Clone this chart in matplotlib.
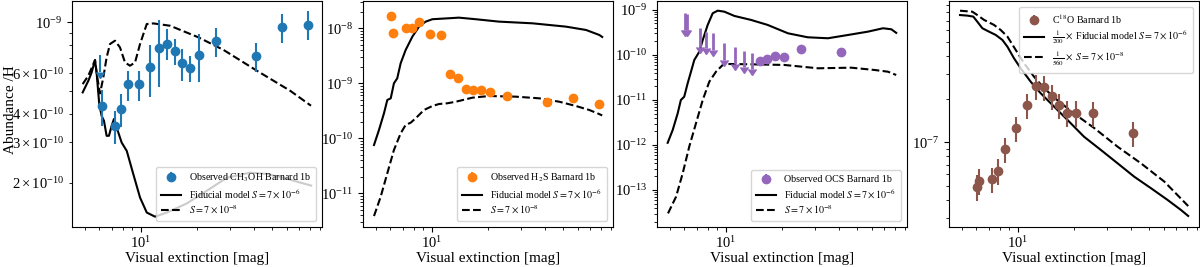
import numpy as np
import matplotlib
matplotlib.use('Agg')
import matplotlib.pyplot as plt

plt.rcParams['font.family'] = ['Liberation Serif', 'DejaVu Serif']
plt.rcParams['mathtext.fontset'] = 'stix'
plt.rcParams['font.size'] = 10

# ---------------- observations (common Av grid) ----------------
av_obs = [6.05, 6.2, 7.25, 7.85, 8.5, 9.8, 11.1, 12.4, 13.7, 15.1, 16.6,
          18.2, 20.5, 25.0, 41.0, 56.5, 77.5]

# CH3OH: upper limit at first Av, detections at the rest
ch3oh_ul_av = [6.05]
ch3oh_ul = [7.2e-10]
ch3oh_ul_len = [1.1e-10]
ch3oh_av = av_obs[1:]
ch3oh = [4.31e-10, 3.54e-10, 4.18e-10, 5.36e-10, 5.36e-10, 6.36e-10, 7.70e-10,
         8.07e-10, 7.50e-10, 6.62e-10, 6.32e-10, 7.22e-10, 8.29e-10, 7.10e-10,
         9.51e-10, 9.77e-10]
ch3oh_err = [0.77e-10, 0.58e-10, 0.70e-10, 0.80e-10, 0.80e-10, 1.63e-10, 2.50e-10,
             1.25e-10, 1.00e-10, 1.06e-10, 0.85e-10, 1.70e-10, 1.20e-10, 1.00e-10,
             1.38e-10, 1.43e-10]

# H2S
h2s_av = av_obs
h2s = [1.67e-8, 8.1e-9, 1.0e-8, 1.03e-8, 1.29e-8, 7.9e-9, 7.65e-9, 1.48e-9,
       1.23e-9, 7.9e-10, 7.55e-10, 7.45e-10, 6.95e-10, 5.95e-10, 4.6e-10,
       5.3e-10, 4.15e-10]
h2s_err = [3.0e-9, 1.4e-9, 1.7e-9, 1.7e-9, 2.1e-9, 1.3e-9, 1.3e-9, 2.6e-10,
           2.2e-10, 1.4e-10, 1.3e-10, 1.3e-10, 1.2e-10, 1.0e-10, 0.8e-10,
           0.9e-10, 0.7e-10]

# OCS: upper limits then detections
ocs_ul_av = [6.05, 6.2, 7.25, 7.85, 8.5, 9.8, 11.1, 12.4, 13.7]
ocs_ul = [8.45e-10, 8.3e-10, 3.92e-10, 3.30e-10, 3.03e-10, 1.82e-10, 1.53e-10,
          1.25e-10, 1.12e-10]
ocs_ul_len = [4.9e-10, 4.8e-10, 2.4e-10, 1.9e-10, 1.75e-10, 1.05e-10, 0.9e-10,
              0.7e-10, 0.62e-10]
ocs_av = [15.1, 16.6, 18.2, 20.5, 25.0, 41.0]
ocs = [7.5e-11, 8.0e-11, 9.5e-11, 9.2e-11, 1.34e-10, 1.18e-10]
ocs_err = [1.5e-11, 1.6e-11, 1.9e-11, 1.8e-11, 2.6e-11, 2.3e-11]

# C18O
c18o_av = [6.05, 6.2, 7.25, 7.85, 8.5, 9.8, 11.1, 12.4, 13.7, 15.1, 16.6,
           18.2, 20.5, 25.0, 41.0]
c18o = [4.93e-8, 5.41e-8, 5.55e-8, 6.34e-8, 8.97e-8, 1.256e-7, 1.82e-7,
        2.47e-7, 2.42e-7, 2.10e-7, 1.82e-7, 1.61e-7, 1.61e-7, 1.60e-7, 1.16e-7]
c18o_err = [1.0e-8, 1.1e-8, 1.1e-8, 1.3e-8, 1.8e-8, 2.5e-8, 3.6e-8,
            4.9e-8, 4.8e-8, 4.2e-8, 3.6e-8, 3.2e-8, 3.2e-8, 3.2e-8, 2.3e-8]

# ---------------- models ----------------
ch3oh_fid_av = [4.88, 5.23, 5.45, 5.68, 5.79, 5.98, 6.16, 6.34, 6.55, 6.74, 6.97,
                7.17, 7.41, 7.88, 8.39, 9.09, 9.88, 10.73, 11.88, 13.72, 17.5,
                22.4, 28.7, 38.3, 47.0, 60.1, 70.8, 81.0]
ch3oh_fid = [4.95e-10, 5.56e-10, 6.05e-10, 6.85e-10, 6.05e-10, 4.42e-10, 3.91e-10,
             3.72e-10, 3.20e-10, 3.20e-10, 3.54e-10, 3.79e-10, 3.48e-10, 2.99e-10,
             2.75e-10, 2.18e-10, 1.72e-10, 1.48e-10, 1.42e-10, 1.48e-10, 1.62e-10,
             1.84e-10, 2.10e-10, 2.21e-10, 2.18e-10, 2.08e-10, 2.00e-10, 1.94e-10]
ch3oh_low_av = [4.88, 5.23, 5.68, 5.82, 6.04, 6.29, 6.55, 6.83, 7.26, 7.72, 8.21,
                8.73, 9.29, 9.88, 10.73, 11.63, 14.3, 20.3, 27.6, 41.6, 62.6, 80.8]
ch3oh_low = [5.38e-10, 5.85e-10, 6.85e-10, 5.85e-10, 4.9e-10, 5.75e-10, 7.03e-10,
             8.05e-10, 8.32e-10, 7.78e-10, 6.69e-10, 6.47e-10, 6.69e-10, 8.05e-10,
             9.84e-10, 9.90e-10, 9.67e-10, 8.60e-10, 7.58e-10, 6.15e-10, 5.03e-10,
             4.33e-10]

h2s_fid_av = [4.90, 5.21, 5.54, 5.77, 6.02, 6.26, 6.52, 6.80, 7.23, 7.85, 8.52,
              9.25, 10.04, 12.3, 13.9, 17.1, 22.8, 34.4, 51.9, 66.4, 78.2, 81.0]
h2s_fid = [7.55e-11, 1.42e-10, 2.85e-10, 4.97e-10, 5.33e-10, 1.0e-9, 1.23e-9,
           2.31e-9, 4.03e-9, 7.03e-9, 1.07e-8, 1.32e-8, 1.46e-8, 1.52e-8, 1.56e-8,
           1.46e-8, 1.32e-8, 1.23e-8, 1.07e-8, 9.31e-9, 7.55e-9, 6.95e-9]
h2s_low_av = [4.90, 5.32, 5.77, 6.26, 6.80, 7.23, 7.69, 8.18, 9.06, 10.04, 10.9,
              12.07, 13.4, 16.4, 20.2, 28.0, 37.3, 47.8, 58.7, 69.1, 78.2, 81.0]
h2s_low = [3.86e-12, 8.67e-12, 2.31e-11, 6.13e-11, 1.23e-10, 1.75e-10, 1.92e-10,
           2.31e-10, 3.27e-10, 3.86e-10, 4.2e-10, 4.33e-10, 4.62e-10, 5.47e-10,
           5.87e-10, 5.71e-10, 5.33e-10, 4.62e-10, 3.86e-10, 3.27e-10, 2.75e-10,
           2.6e-10]

ocs_fid_av = [4.88, 5.19, 5.52, 5.74, 5.98, 6.24, 6.50, 6.77, 7.20, 7.51, 7.98,
              8.49, 9.03, 9.79, 11.08, 13.6, 16.7, 21.4, 27.3, 35.0, 44.8, 57.3,
              68.9, 76.3, 81.0]
ocs_fid = [1.12e-12, 2.15e-12, 5.06e-12, 1.0e-11, 1.18e-11, 2.35e-11, 4.25e-11,
           7.74e-11, 1.18e-10, 2.15e-10, 4.64e-10, 8.45e-10, 9.64e-10, 9.16e-10,
           7.36e-10, 6.0e-10, 4.64e-10, 3.03e-10, 2.47e-10, 2.35e-10, 2.78e-10,
           3.3e-10, 3.92e-10, 3.72e-10, 3.1e-10]
ocs_low_av = [4.90, 5.41, 5.87, 6.36, 6.91, 7.51, 8.14, 8.84, 9.60, 10.2, 13.6,
              20.5, 30.9, 46.6, 62.1, 73.2, 81.0]
ocs_low = [3.03e-14, 7.1e-14, 2.35e-13, 9.16e-13, 3.03e-12, 1.0e-11, 2.55e-11,
           4.25e-11, 6.0e-11, 6.31e-11, 6.2e-11, 6.0e-11, 5.06e-11, 5.22e-11,
           4.64e-11, 4.25e-11, 3.59e-11]

c18o_fid_av = [4.90, 5.36, 5.77, 6.06, 6.45, 7.0, 7.60, 8.25, 8.78, 9.52, 10.34,
               11.69, 13.2, 14.96, 18.4, 22.5, 27.7, 34.0, 41.7, 51.3, 62.9,
               74.1, 81.0]
c18o_fid = [7.67e-7, 7.6e-7, 7.48e-7, 6.9e-7, 6.21e-7, 5.88e-7, 5.58e-7, 5.15e-7,
            4.62e-7, 3.84e-7, 3.27e-7, 2.64e-7, 2.2e-7, 1.87e-7, 1.43e-7,
            1.097e-7, 8.87e-8, 7.17e-8, 5.79e-8, 4.81e-8, 3.99e-8, 3.40e-8, 3.09e-8]
c18o_low_av = [4.90, 5.70, 6.06, 6.58, 7.44, 8.08, 8.78, 9.72, 10.77, 12.18,
               13.77, 16.2, 19.9, 25.5, 34.0, 45.3, 60.4, 81.0]
c18o_low = [8.22e-7, 8.09e-7, 7.67e-7, 7.1e-7, 6.55e-7, 6.04e-7, 5.43e-7, 4.39e-7,
            3.55e-7, 2.86e-7, 2.38e-7, 1.97e-7, 1.59e-7, 1.26e-7, 9.35e-8,
            7.17e-8, 5.35e-8, 3.62e-8]

fid_label = r'Fiducial model $S=7\times10^{-6}$'
low_label = r'$S=7\times10^{-8}$'

W, H = 1200, 267
fig = plt.figure(figsize=(W / 100, H / 100), dpi=100)


def add_ax(x0, x1, y_top=1, y_bot=227):
    return fig.add_axes([x0 / W, (H - y_bot) / H, (x1 - x0) / W, (y_bot - y_top) / H])


ax1 = add_ax(72, 322)
ax2 = add_ax(363, 613)
ax3 = add_ax(657, 907)
ax4 = add_ax(949, 1199)

cb, co, cp, cbr = '#1f77b4', '#ff7f0e', '#9467bd', '#8c564b'

# Panel 1
ax1.plot(ch3oh_fid_av, ch3oh_fid, 'k-', lw=1.5, label=fid_label)
ax1.plot(ch3oh_low_av, ch3oh_low, 'k--', lw=1.5, label=low_label)
ax1.errorbar(ch3oh_av, ch3oh, yerr=ch3oh_err, fmt='o', color=cb, ms=6,
             label='Observed CH$_3$OH Barnard 1b')
ax1.errorbar(ch3oh_ul_av, ch3oh_ul, yerr=ch3oh_ul_len, uplims=True, fmt='none',
             color=cb, ecolor=cb, markersize=6)
ax1.set_ylim(1.28e-10, 1.24e-9)
ax1.set_ylabel('Abundance /H', fontsize=11)
ax1.yaxis.set_label_coords(-0.22, 0.52)

# Panel 2
ax2.plot(h2s_fid_av, h2s_fid, 'k-', lw=1.5, label=fid_label)
ax2.plot(h2s_low_av, h2s_low, 'k--', lw=1.5, label=low_label)
ax2.errorbar(h2s_av, h2s, yerr=h2s_err, fmt='o', color=co, ms=6,
             label='Observed H$_2$S Barnard 1b')
ax2.set_ylim(2.44e-12, 3.13e-8)

# Panel 3
ax3.plot(ocs_fid_av, ocs_fid, 'k-', lw=1.5, label=fid_label)
ax3.plot(ocs_low_av, ocs_low, 'k--', lw=1.5, label=low_label)
ax3.errorbar(ocs_av, ocs, yerr=ocs_err, fmt='o', color=cp, ms=6,
             label='Observed OCS Barnard 1b')
ax3.errorbar(ocs_ul_av, ocs_ul, yerr=ocs_ul_len, uplims=True, fmt='none',
             color=cp, ecolor=cp, elinewidth=2, markersize=7)
ax3.set_ylim(1.51e-14, 1.58e-9)

# Panel 4
ax4.plot(c18o_fid_av, c18o_fid, 'k-', lw=1.5,
         label=r'$\frac{1}{200}\times$ Fiducial model $S=7\times10^{-6}$')
ax4.plot(c18o_low_av, c18o_low, 'k--', lw=1.5,
         label=r'$\frac{1}{560}\times$ $S=7\times10^{-8}$')
ax4.errorbar(c18o_av, c18o, yerr=c18o_err, fmt='o', color=cbr, ms=6,
             label='C$^{18}$O Barnard 1b')
ax4.set_ylim(2.59e-8, 9.6e-7)

for ax in (ax1, ax2, ax3, ax4):
    ax.set_xscale('log')
    ax.set_yscale('log')
    ax.set_xlim(4.28, 92.5)
    ax.set_xlabel('Visual extinction [mag]', fontsize=11, labelpad=1)
    ax.tick_params(axis='both', which='both', labelsize=10.5)
    ax.tick_params(axis='x', which='major', pad=2)

for ax, loc in ((ax1, 'lower right'), (ax2, 'lower right'), (ax3, 'lower right'),
                (ax4, 'upper right')):
    h, l = ax.get_legend_handles_labels()
    order = [2, 0, 1]
    ax.legend([h[i] for i in order], [l[i] for i in order], loc=loc, fontsize=7.2,
              labelspacing=0.3, borderpad=0.5, handletextpad=0.8,
              borderaxespad=0.6)

fig.savefig('out.png', dpi=100)
